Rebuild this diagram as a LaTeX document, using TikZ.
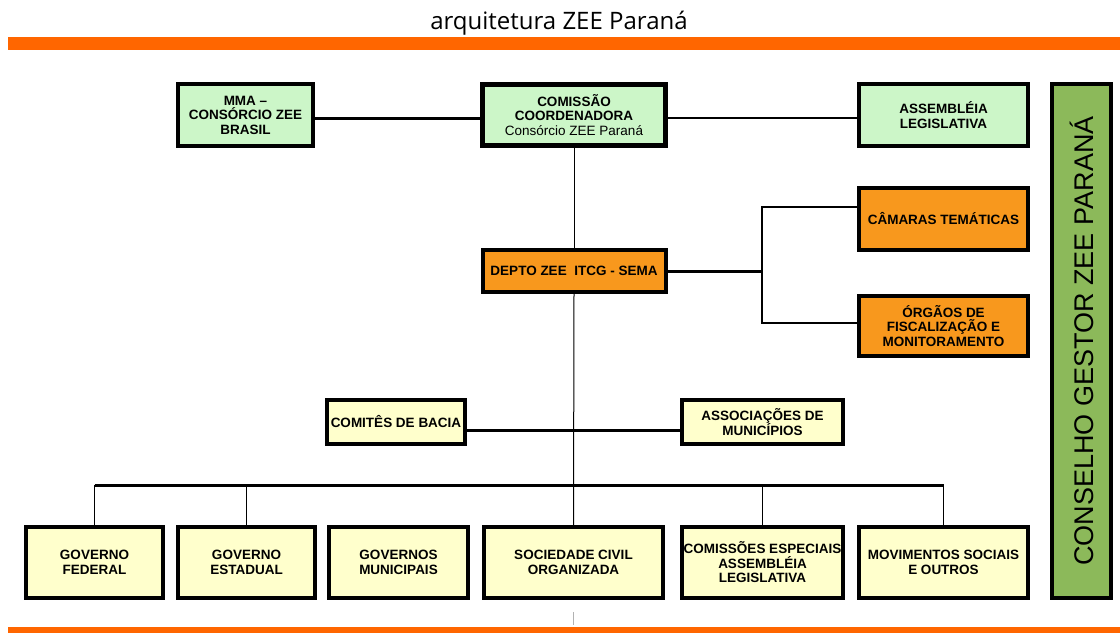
\documentclass[tikz,border=0pt]{standalone}
\usepackage{fontspec}
\setmainfont{Liberation Sans}
\newfontfamily\titlefont{Open Sans}
\usepackage{xcolor}
\usetikzlibrary{positioning}
\definecolor{barorange}{RGB}{255,102,0}
\definecolor{boxgreen}{RGB}{204,246,200}
\definecolor{boxorange}{RGB}{248,152,29}
\definecolor{boxyellow}{RGB}{255,255,204}
\definecolor{councilgreen}{RGB}{140,185,90}

\begin{document}
\begin{tikzpicture}[x=1pt, y=-1pt]
    \tikzset{orgbox/.style={draw, line width=4pt, align=center, inner sep=1pt, font=\fontsize{13.5}{14.5}\selectfont\bfseries}};
    \tikzset{greenbox/.style={orgbox, fill=boxgreen}, orangebox/.style={orgbox, fill=boxorange}, yellowbox/.style={orgbox, fill=boxyellow, minimum height=71}};
    \useasboundingbox (0, 0) rectangle (1120, 633);
    \fill [white] (0, 0) rectangle (1120, 633);
    \node [font=\titlefont\fontsize{24}{24}\selectfont] (title) at (559, 23) {arquitetura ZEE Paraná};
    \fill [barorange] (8, 37) rectangle (1120, 50);
    \fill [barorange] (8, 627) rectangle (1120, 633);

    \node [greenbox, minimum width=135, minimum height=62] (mma) at (245.5, 115) {MMA --\\CONSÓRCIO ZEE\\BRASIL};
    \node [greenbox, line width=5pt, minimum width=183, minimum height=61] (com) at (574, 115) {COMISSÃO\\COORDENADORA\\\mdseries Consórcio ZEE Paraná};
    \node [greenbox, minimum width=169, minimum height=62] (assem) at (943.5, 115) {ASSEMBLÉIA\\LEGISLATIVA};
    \node [draw, fill=councilgreen, line width=4pt, rotate=90, minimum width=514, minimum height=59, font=\fontsize{27}{27}\selectfont] (council) at (1081.5, 341) {CONSELHO GESTOR ZEE PARANÁ};

    \node [orangebox, minimum width=183, minimum height=42] (dep) at (574, 271) {DEPTO ZEE\ \ ITCG - SEMA};
    \node [orangebox, minimum width=169, minimum height=62] (cam) at (943.5, 219) {CÂMARAS TEMÁTICAS};
    \node [orangebox, minimum width=169, minimum height=60] (org) at (943.5, 326) {ÓRGÃOS DE\\FISCALIZAÇÃO E\\MONITORAMENTO};

    \node [yellowbox, minimum width=138, minimum height=44] (comites) at (396, 422) {COMITÊS DE BACIA};
    \node [yellowbox, minimum width=161, minimum height=44] (assoc) at (762.5, 422) {ASSOCIAÇÕES DE\\MUNICÍPIOS};

    \node [yellowbox, minimum width=137] (gfed) at (94.5, 562.5) {GOVERNO\\FEDERAL};
    \node [yellowbox, minimum width=137] (gest) at (246.5, 562.5) {GOVERNO\\ESTADUAL};
    \node [yellowbox, minimum width=139] (gmun) at (398.5, 562.5) {GOVERNOS\\MUNICIPAIS};
    \node [yellowbox, minimum width=179] (soc) at (573.5, 562.5) {SOCIEDADE CIVIL\\ORGANIZADA};
    \node [yellowbox, minimum width=161] (coms) at (762.5, 562.5) {COMISSÕES ESPECIAIS\\ASSEMBLÉIA\\LEGISLATIVA};
    \node [yellowbox, minimum width=169] (mov) at (943.5, 562.5) {MOVIMENTOS SOCIAIS\\E OUTROS};

    \draw [line width=3pt] ([yshift=-3pt]mma.east) -- ([yshift=-3pt]com.west);
    \draw [line width=2.5pt] ([yshift=-3pt]com.east) -- ([yshift=-3pt]assem.west);
    \draw [line width=1pt] (com.south) -- (dep.north);
    \draw [line width=1pt] (dep.south) -- (soc.north);
    \coordinate (fork) at (762, 271);
    \draw [line width=3pt] (dep.east) -- (fork);
    \draw [line width=2pt] ([yshift=12pt]cam.west) -| (fork) |- ([yshift=3pt]org.west);
    \draw [line width=3pt] ([yshift=-8pt]comites.east) -- ([yshift=-8pt]assoc.west);
    \coordinate (busleft) at (94.5, 485);
    \coordinate (busright) at (943.5, 485);
    \draw [line width=3pt] (busleft) -- (busright);
    \foreach \n in {gfed, gest, coms, mov}
        \draw [line width=1.5pt] (\n.north) -- (\n.north |- busleft);
    \draw [gray!60, line width=0.6pt] ([yshift=-12pt]soc.south) -- ([yshift=-25pt]soc.south);
\end{tikzpicture}
\end{document}
